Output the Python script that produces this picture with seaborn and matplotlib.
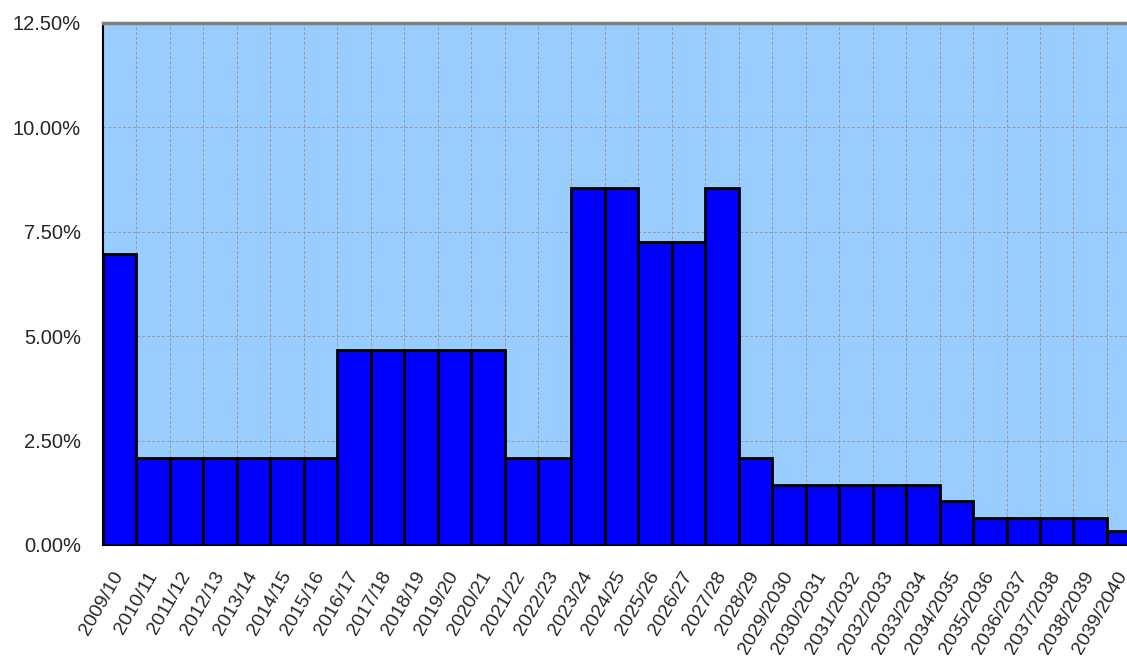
import matplotlib
matplotlib.use("Agg")
import matplotlib.pyplot as plt
from matplotlib.ticker import FixedLocator, PercentFormatter
import seaborn as sns
import pandas as pd

years = ["2009/10", "2010/11", "2011/12", "2012/13", "2013/14", "2014/15",
         "2015/16", "2016/17", "2017/18", "2018/19", "2019/20", "2020/21",
         "2021/22", "2022/23", "2023/24", "2024/25", "2025/26", "2026/27",
         "2027/28", "2028/29", "2029/2030", "2030/2031", "2031/2032",
         "2032/2033", "2033/2034", "2034/2035", "2035/2036", "2036/2037",
         "2037/2038", "2038/2039", "2039/2040"]
share = [6.97, 2.08, 2.08, 2.08, 2.08, 2.08, 2.08, 4.66, 4.66, 4.66, 4.66,
         4.66, 2.08, 2.08, 8.55, 8.55, 7.26, 7.26, 8.55, 2.08, 1.43, 1.43,
         1.43, 1.43, 1.43, 1.05, 0.65, 0.65, 0.65, 0.65, 0.33]
y_ticks = [0, 2.5, 5, 7.5, 10, 12.5]

df = pd.DataFrame({"year": years, "share": share})

sns.set_style("white")
plt.rcParams["font.family"] = ["Liberation Sans", "DejaVu Sans"]

fig = plt.figure(figsize=(11.27, 6.57), dpi=100)
ax = fig.add_axes([103 / 1127, 1 - 545 / 657, 1 - 103 / 1127, (545 - 23) / 657])
ax.set_facecolor("#99CCFF")

sns.barplot(data=df, x="year", y="share", color="#0000FF", width=1.0,
            saturation=1, edgecolor="black", linewidth=2, ax=ax, zorder=3)

n = len(years)
ax.set_xlim(-0.5, n - 0.9)
ax.set_ylim(0, 12.5)

# labels sit under bar centres, tick marks and grid at bar boundaries
ax.xaxis.set_major_locator(FixedLocator([i - 0.5 for i in range(n + 1)]))
ax.xaxis.set_minor_locator(FixedLocator(list(range(n))))
ax.set_xticklabels([])
ax.set_xticklabels(years, minor=True, rotation=60, ha="right", va="center",
                   rotation_mode="anchor", fontsize=14)
ax.tick_params(axis="x", which="major", length=4.5, color="#808080", width=1)
ax.tick_params(axis="x", which="minor", length=0, pad=20)

ax.set_yticks(y_ticks)
ax.yaxis.set_major_formatter(PercentFormatter(decimals=2))
ax.tick_params(axis="y", length=4.3, color="black", width=1, labelsize=14.5,
               pad=11.5)

ax.grid(True, which="major", color="#9A9A9A", linestyle=(0, (3, 2)),
        linewidth=0.7, zorder=0)
ax.set_axisbelow(True)

ax.set_xlabel("")
ax.set_ylabel("")
for side in ["left", "bottom"]:
    ax.spines[side].set_color("black")
    ax.spines[side].set_linewidth(1.5)
ax.spines["top"].set_color("#808080")
ax.spines["top"].set_linewidth(2.5)
ax.spines["right"].set_visible(False)

fig.savefig("out.png", dpi=100)
